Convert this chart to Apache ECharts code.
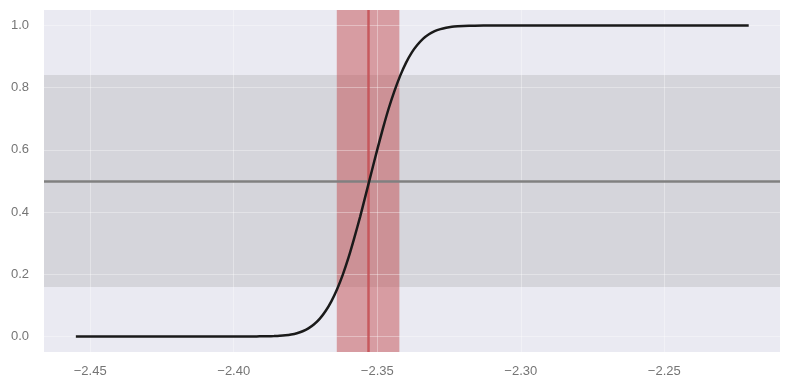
<!DOCTYPE html>
<html>
<head>
<meta charset="utf-8">
<script src="https://cdn.jsdelivr.net/npm/echarts@6/dist/echarts.min.js"></script>
<style>
  html, body { margin: 0; padding: 0; background: #fff; }
  #chart { width: 790px; height: 390px; }
</style>
</head>
<body>
<div id="chart"></div>
<script>
// values
const curveX = [-2.455, -2.42, -2.40, -2.392, -2.390, -2.388, -2.386, -2.384, -2.382, -2.380,
  -2.378, -2.376, -2.374, -2.372, -2.370, -2.368, -2.366, -2.364, -2.362, -2.360,
  -2.358, -2.356, -2.354, -2.352, -2.350, -2.348, -2.346, -2.344, -2.342, -2.340,
  -2.338, -2.336, -2.334, -2.332, -2.330, -2.328, -2.326, -2.324, -2.322, -2.320,
  -2.316, -2.310, -2.28, -2.2206];
const curveY = [0, 0, 0, 0.0002, 0.0004, 0.0006, 0.0012, 0.0021, 0.0037, 0.0063,
  0.0104, 0.0167, 0.0259, 0.0391, 0.0573, 0.0817, 0.113, 0.152, 0.199, 0.254,
  0.317, 0.384, 0.456, 0.529, 0.601, 0.670, 0.734, 0.790, 0.839, 0.880,
  0.913, 0.938, 0.958, 0.972, 0.982, 0.9885, 0.993, 0.996, 0.9976, 0.9987,
  0.9996, 1, 1, 1];

const xTicks = [-2.45, -2.40, -2.35, -2.30, -2.25];
const yTicks = [0.0, 0.2, 0.4, 0.6, 0.8, 1.0];

const centerX = -2.3532;           // red vertical line
const redBand = [-2.3641, -2.3423]; // shaded x interval
const grayBand = [0.1587, 0.8413];  // shaded y interval
const midY = 0.5;

const chart = echarts.init(document.getElementById('chart'));

const labelStyle = {
  color: '#757575',
  fontSize: 13,
  fontFamily: '"Liberation Sans", Arial, sans-serif'
};

const noSym = ['none', 'none'];

chart.setOption({
  animation: false,
  grid: {
    left: 44, right: 10, top: 10, bottom: 38,
    show: true,
    backgroundColor: '#eaeaf2',
    borderWidth: 0
  },
  xAxis: {
    type: 'value',
    min: -2.4661,
    max: -2.2097,
    axisLine: { show: false },
    axisTick: { show: false },
    splitLine: { show: false },
    axisLabel: {
      ...labelStyle,
      margin: 13,
      customValues: xTicks,
      formatter: v => v.toFixed(2).replace('-', '\u2212')
    }
  },
  yAxis: {
    type: 'value',
    min: -0.05,
    max: 1.05,
    axisLine: { show: false },
    axisTick: { show: false },
    splitLine: { show: false },
    axisLabel: {
      ...labelStyle,
      margin: 15,
      customValues: yTicks,
      formatter: v => v.toFixed(1)
    }
  },
  series: [
    {
      // faint white grid lines
      type: 'line',
      data: [],
      z: 1,
      silent: true,
      markLine: {
        silent: true,
        precision: 4,
        symbol: noSym,
        label: { show: false },
        lineStyle: { color: '#ffffff', width: 1, type: 'solid', opacity: 0.35 },
        data: xTicks.map(v => ({ xAxis: v })).concat(yTicks.map(v => ({ yAxis: v })))
      }
    },
    {
      type: 'line',
      data: [],
      z: 2,
      silent: true,
      markArea: {
        silent: true,
        itemStyle: { color: 'rgba(128,128,128,0.2)' },
        data: [[{ yAxis: grayBand[0] }, { yAxis: grayBand[1] }]]
      }
    },
    {
      type: 'line',
      data: [],
      z: 3,
      silent: true,
      markArea: {
        silent: true,
        itemStyle: { color: 'rgba(196,78,82,0.5)' },
        data: [[{ xAxis: redBand[0] }, { xAxis: redBand[1] }]]
      }
    },
    {
      type: 'line',
      data: [],
      z: 4,
      silent: true,
      markLine: {
        silent: true,
        precision: 4,
        symbol: noSym,
        label: { show: false },
        lineStyle: { color: '#808080', width: 2.5, type: 'solid' },
        data: [{ yAxis: midY }]
      }
    },
    {
      type: 'line',
      data: [],
      z: 4,
      silent: true,
      markLine: {
        silent: true,
        precision: 4,
        symbol: noSym,
        label: { show: false },
        lineStyle: { color: '#c44e52', width: 2.5, type: 'solid', opacity: 0.85 },
        data: [{ xAxis: centerX }]
      }
    },
    {
      type: 'line',
      z: 5,
      data: curveX.map((x, i) => [x, curveY[i]]),
      showSymbol: false,
      smooth: 0.2,
      lineStyle: { color: '#1a1a1a', width: 2.5 }
    }
  ]
});
</script>
</body>
</html>
